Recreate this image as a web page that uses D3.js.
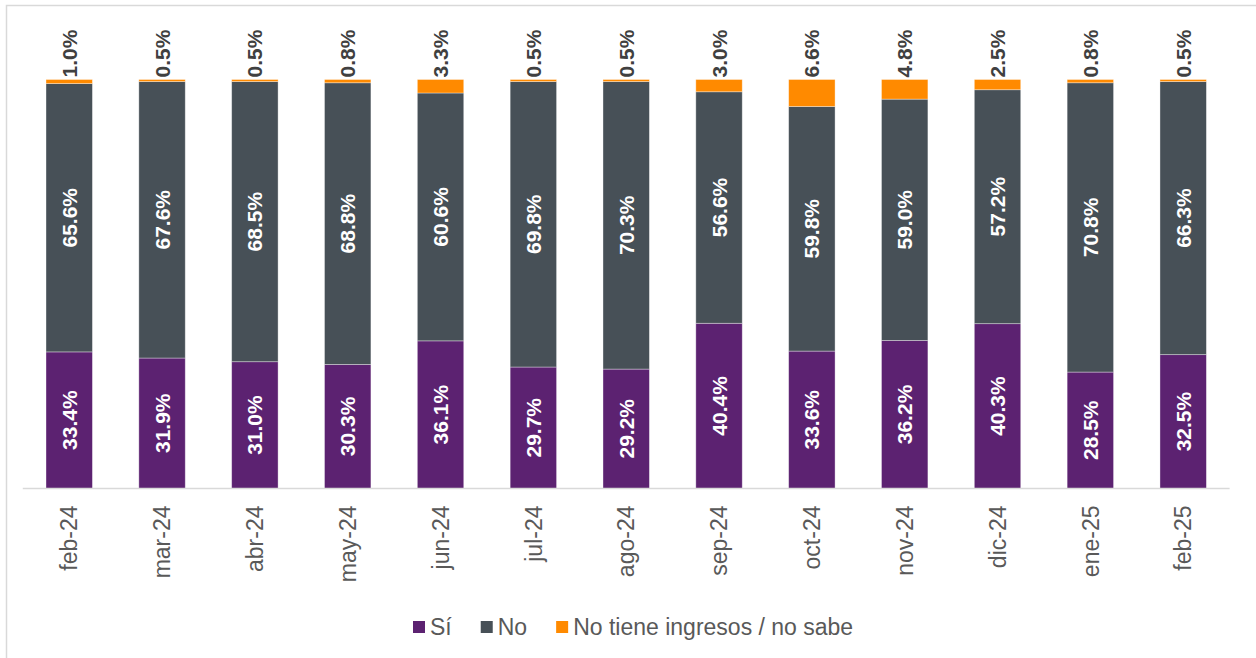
<!DOCTYPE html>
<html>
<head>
<meta charset="utf-8">
<script src="https://cdn.jsdelivr.net/npm/d3@7"></script>
<style>
  body { margin: 0; background: #fff; }
  text { font-family: "Liberation Sans", Arial, sans-serif; }
</style>
</head>
<body>
<script>
// Data
var months = ["feb-24", "mar-24", "abr-24", "may-24", "jun-24", "jul-24", "ago-24",
  "sep-24", "oct-24", "nov-24", "dic-24", "ene-25", "feb-25"];
var si = [33.4, 31.9, 31.0, 30.3, 36.1, 29.7, 29.2, 40.4, 33.6, 36.2, 40.3, 28.5, 32.5];
var no = [65.6, 67.6, 68.5, 68.8, 60.6, 69.8, 70.3, 56.6, 59.8, 59.0, 57.2, 70.8, 66.3];
var noSabe = [1.0, 0.5, 0.5, 0.8, 3.3, 0.5, 0.5, 3.0, 6.6, 4.8, 2.5, 0.8, 0.5];
var seriesNames = ["Sí", "No", "No tiene ingresos / no sabe"];
var seriesKeys = ["si", "no", "noSabe"];

var colors = { si: "#5c2271", no: "#475057", noSabe: "#ff8a00" };

var svgWidth = 1256;
var svgHeight = 658;

var svg = d3.select("body")
  .append("svg")
  .attr("width", svgWidth)
  .attr("height", svgHeight);

// outer frame
svg.append("rect")
  .attr("x", 6.5)
  .attr("y", 5.5)
  .attr("width", 1270)
  .attr("height", 700)
  .attr("fill", "none")
  .attr("stroke", "#d9d9d9")
  .attr("stroke-width", 1.5);

// build rows for the stack
var rows = months.map(function(m, i) {
  return { month: m, si: si[i], no: no[i], noSabe: noSabe[i] };
});

var stack = d3.stack()
  .keys(seriesKeys)
  .offset(d3.stackOffsetExpand);
var stacked = stack(rows);

var xScale = d3.scaleBand()
  .domain(months)
  .range([22.8, 1229.6])
  .paddingInner(0.5)
  .paddingOuter(0.25);

var yScale = d3.scaleLinear()
  .domain([0, 1])
  .range([488.5, 79.5]);

// bars
var layers = svg.selectAll("g.layer")
  .data(stacked)
  .enter()
  .append("g")
  .attr("class", "layer")
  .attr("fill", d => colors[d.key]);

layers.selectAll("rect")
  .data(d => d)
  .enter()
  .append("rect")
  .attr("x", d => xScale(d.data.month))
  .attr("y", d => yScale(d[1]))
  .attr("width", xScale.bandwidth())
  .attr("height", d => yScale(d[0]) - yScale(d[1]))
  .attr("stroke", "#ffffff")
  .attr("stroke-opacity", 0.45)
  .attr("stroke-width", 0.8);

// baseline
svg.append("line")
  .attr("x1", 22.8)
  .attr("x2", 1229.6)
  .attr("y1", yScale(0))
  .attr("y2", yScale(0))
  .attr("stroke", "#d9d9d9")
  .attr("stroke-width", 1.5);

// labels inside Sí and No segments
stacked.slice(0, 2).forEach(function(layer) {
  svg.append("g")
    .selectAll("text")
    .data(layer)
    .enter()
    .append("text")
    .attr("transform", function(d) {
      var cx = xScale(d.data.month) + xScale.bandwidth() / 2;
      var cy = (yScale(d[0]) + yScale(d[1])) / 2;
      return "translate(" + cx + "," + cy + ") rotate(-90)";
    })
    .attr("text-anchor", "middle")
    .attr("dy", "0.36em")
    .attr("fill", "#ffffff")
    .attr("font-weight", "bold")
    .attr("font-size", "21px")
    .text(d => d.data[layer.key].toFixed(1) + "%");
});

// labels above the bars for the third series
svg.append("g")
  .selectAll("text")
  .data(stacked[2])
  .enter()
  .append("text")
  .attr("transform", function(d) {
    var cx = xScale(d.data.month) + xScale.bandwidth() / 2;
    return "translate(" + cx + "," + (yScale(1) - 2) + ") rotate(-90)";
  })
  .attr("text-anchor", "start")
  .attr("dy", "0.36em")
  .attr("fill", "#404040")
  .attr("font-weight", "bold")
  .attr("font-size", "21px")
  .text(d => d.data.noSabe.toFixed(1) + "%");

// category axis labels
var bottomAxis = d3.axisBottom(xScale).tickSize(0).tickPadding(0);
var axisGroup = svg.append("g")
  .attr("transform", `translate(0, ${yScale(0)})`)
  .call(bottomAxis);
axisGroup.select(".domain").remove();
axisGroup.selectAll(".tick text")
  .attr("font-family", "Liberation Sans, Arial, sans-serif")
  .attr("font-size", "23px")
  .attr("fill", "#595959")
  .attr("transform", "translate(0, 17) rotate(-90)")
  .attr("text-anchor", "end")
  .attr("x", 0)
  .attr("y", 0)
  .attr("dy", "0.36em");

// legend
var legend = svg.append("g")
  .attr("transform", "translate(413, 627)");
var lx = 0;
seriesKeys.forEach(function(key, i) {
  var item = legend.append("g").attr("transform", `translate(${lx}, 0)`);
  item.append("rect")
    .attr("x", 0)
    .attr("y", -6)
    .attr("width", 12)
    .attr("height", 12)
    .attr("fill", colors[key]);
  var t = item.append("text")
    .attr("x", 17)
    .attr("y", 0)
    .attr("dy", "0.36em")
    .attr("font-size", "23px")
    .attr("fill", "#595959")
    .text(seriesNames[i]);
  lx += 17 + t.node().getComputedTextLength() + 29;
});
</script>
</body>
</html>
